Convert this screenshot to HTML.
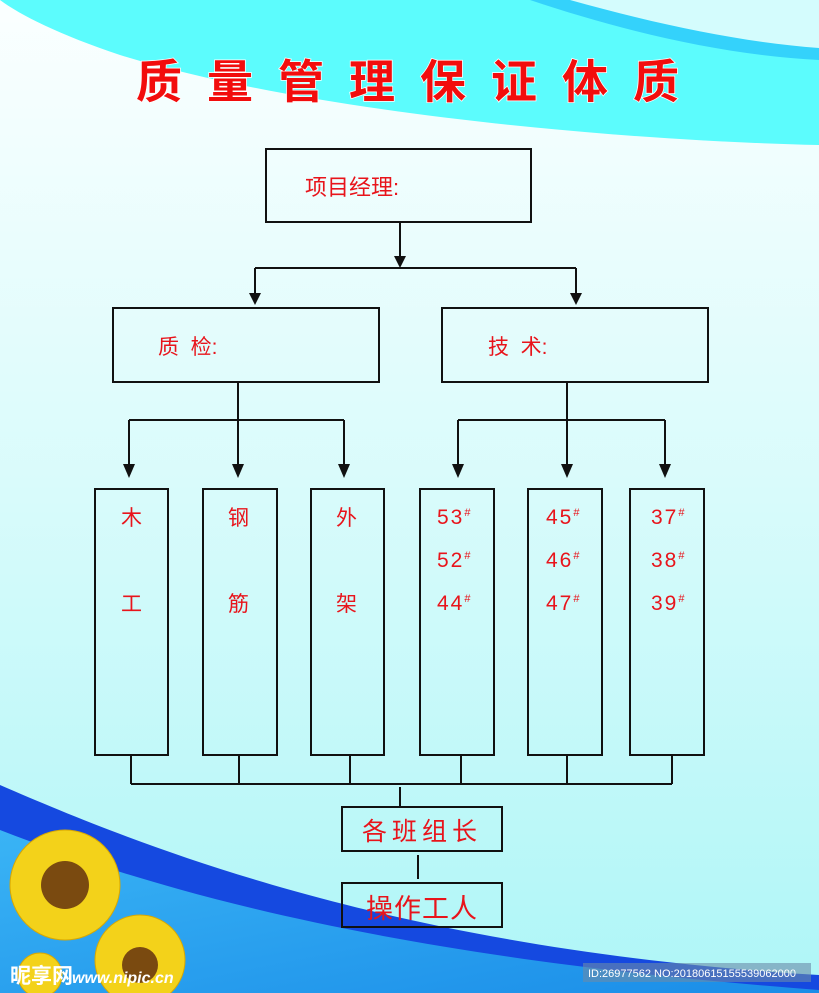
<!DOCTYPE html>
<html><head><meta charset="utf-8"><style>
html,body{margin:0;padding:0}
body{width:819px;height:993px;position:relative;overflow:hidden;font-family:"Liberation Sans","Noto Sans CJK SC",sans-serif}
.b{position:absolute;border:2px solid #111;box-sizing:border-box}
.t{position:absolute;color:#e8141b;font-size:21px;white-space:nowrap}
.c{position:absolute;color:#e8141b;font-size:21px;text-align:center;letter-spacing:2px}
sup{font-size:11px;line-height:0;vertical-align:8px}
</style></head><body>
<svg width="819" height="993" style="position:absolute;left:0;top:0">
<defs>
<linearGradient id="bg" x1="0" y1="0" x2="0" y2="1"><stop offset="0" stop-color="#fbffff"/><stop offset="0.5" stop-color="#d8fbfb"/><stop offset="1" stop-color="#aef6f7"/></linearGradient>
<linearGradient id="lb" x1="0" y1="0" x2="1" y2="1"><stop offset="0" stop-color="#3ab4f5"/><stop offset="1" stop-color="#1a8de8"/></linearGradient>
</defs>
<rect width="819" height="993" fill="url(#bg)"/>
<path d="M0,0 L819,0 L819,145 C600,140 300,110 120,55 C60,35 20,15 0,0Z" fill="#5cfcfd"/>
<path d="M530,0 C620,30 720,55 819,60 L819,0Z" fill="#34d2fb"/>
<path d="M570,0 C660,25 740,42 819,48 L819,0Z" fill="#d4fcfd"/>
<path d="M0,785 C150,850 400,950 819,975 L819,993 L0,993Z" fill="#1549e0"/>
<path d="M0,830 C180,900 420,960 819,990 L819,993 L0,993Z" fill="url(#lb)"/>
<g fill="#f3d21a" stroke="#d9a800" stroke-width="1">
<circle cx="65" cy="885" r="55"/><circle cx="140" cy="960" r="45"/><circle cx="40" cy="975" r="22"/>
</g>
<circle cx="65" cy="885" r="24" fill="#7a4a10"/><circle cx="140" cy="965" r="18" fill="#7a4a10"/>
<rect x="583" y="963" width="228" height="19" fill="#6a8aa8" opacity="0.6"/>
<text x="588" y="977" font-size="11" fill="#fff" font-family="Liberation Sans">ID:26977562 NO:20180615155539062000</text>
<text x="10" y="983" font-size="21" font-weight="bold" fill="#fff" font-family="Liberation Sans,Noto Sans CJK SC,sans-serif">昵享网</text>
<text x="72" y="983" font-size="16" font-weight="bold" font-style="italic" fill="#fff" font-family="Liberation Sans">www.nipic.cn</text>
<text x="420" y="98" font-size="46" font-weight="bold" fill="#f20d0d" stroke="#fff" stroke-width="1.5" paint-order="stroke" text-anchor="middle" letter-spacing="25" font-family="Liberation Sans,Noto Sans CJK SC,sans-serif">质量管理保证体质</text>
<g stroke="#111" stroke-width="2" fill="none">
<path d="M400,222V258M255,268H576M255,268V295M576,268V295"/>
<path d="M238,382V420M129,420H344M129,420V468M238,420V468M344,420V468"/>
<path d="M567,382V420M458,420H665M458,420V468M567,420V468M665,420V468"/>
<path d="M131,755V784M239,755V784M350,755V784M461,755V784M567,755V784M672,755V784M131,784H672"/>
<path d="M400,787V806M418,855V879"/>
</g>
<g fill="#111">
<path d="M394,256L400,268L406,256Z"/>
<path d="M249,293L255,305L261,293Z"/><path d="M570,293L576,305L582,293Z"/>
<path d="M123,464L129,478L135,464Z"/><path d="M232,464L238,478L244,464Z"/><path d="M338,464L344,478L350,464Z"/>
<path d="M452,464L458,478L464,464Z"/><path d="M561,464L567,478L573,464Z"/><path d="M659,464L665,478L671,464Z"/>
</g>
</svg>
<div class="b" style="left:265px;top:148px;width:267px;height:75px"></div>
<div class="t" style="left:305px;top:170px;font-size:22px">项目经理:</div>
<div class="b" style="left:112px;top:307px;width:268px;height:76px"></div>
<div class="t" style="left:158px;top:331px">质&nbsp;&nbsp;检:</div>
<div class="b" style="left:441px;top:307px;width:268px;height:76px"></div>
<div class="t" style="left:488px;top:331px">技&nbsp;&nbsp;术:</div>
<div class="b" style="left:94px;top:488px;width:75px;height:268px"></div>
<div class="b" style="left:202px;top:488px;width:76px;height:268px"></div>
<div class="b" style="left:310px;top:488px;width:75px;height:268px"></div>
<div class="b" style="left:419px;top:488px;width:76px;height:268px"></div>
<div class="b" style="left:527px;top:488px;width:76px;height:268px"></div>
<div class="b" style="left:629px;top:488px;width:76px;height:268px"></div>
<div class="t" style="left:121px;top:476px;line-height:86px">木<br>工</div>
<div class="t" style="left:228px;top:476px;line-height:86px">钢<br>筋</div>
<div class="t" style="left:336px;top:476px;line-height:86px">外<br>架</div>
<div class="t" style="left:437px;top:496px;line-height:43px;letter-spacing:2px">53<sup>#</sup><br>52<sup>#</sup><br>44<sup>#</sup></div>
<div class="t" style="left:546px;top:496px;line-height:43px;letter-spacing:2px">45<sup>#</sup><br>46<sup>#</sup><br>47<sup>#</sup></div>
<div class="t" style="left:651px;top:496px;line-height:43px;letter-spacing:2px">37<sup>#</sup><br>38<sup>#</sup><br>39<sup>#</sup></div>
<div class="b" style="left:341px;top:806px;width:162px;height:46px"></div>
<div class="c" style="left:341px;top:812px;width:162px;font-size:25px;letter-spacing:5px">各班组长</div>
<div class="b" style="left:341px;top:882px;width:162px;height:46px"></div>
<div class="c" style="left:341px;top:887px;width:162px;font-size:27px;letter-spacing:1px">操作工人</div>
</body></html>
